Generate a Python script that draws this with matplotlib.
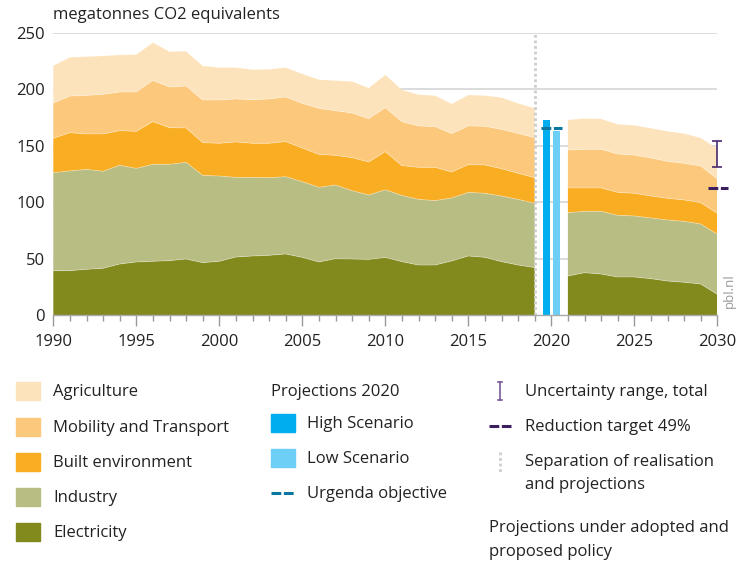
import matplotlib
matplotlib.use("Agg")
import matplotlib.pyplot as plt
from matplotlib.patches import Rectangle
from matplotlib.lines import Line2D

plt.rcParams['font.family'] = ['Open Sans', 'DejaVu Sans']

# ---------------- data ----------------
years_hist = list(range(1990, 2020))
electricity_hist = [39.3, 39.3, 40.5, 41.4, 45.2, 47.0, 47.6, 48.2, 49.6, 46.4,
                    47.6, 51.4, 52.3, 52.9, 54.1, 51.1, 47.0, 49.9, 49.6, 49.3,
                    51.0, 47.3, 44.3, 44.3, 47.9, 52.3, 51.1, 47.3, 44.3, 42.0]
industry_hist = [86.9, 88.4, 88.6, 86.0, 87.5, 83.0, 86.0, 85.4, 85.7, 77.4,
                 75.6, 70.6, 69.7, 68.8, 68.5, 67.1, 66.2, 65.3, 60.6, 57.1,
                 60.0, 58.7, 58.2, 57.1, 55.8, 56.4, 56.8, 58.2, 58.2, 57.0]
built_hist = [30.4, 33.9, 31.4, 33.1, 30.7, 32.8, 37.8, 32.5, 30.5, 29.0,
              29.0, 31.4, 30.2, 30.5, 31.1, 29.8, 29.2, 26.3, 29.3, 29.2,
              33.8, 26.4, 28.4, 29.5, 23.1, 24.6, 25.1, 24.2, 23.1, 22.7]
mobility_hist = [31.3, 32.5, 34.2, 35.1, 34.3, 34.9, 36.6, 36.0, 37.2, 37.8,
                 38.4, 38.1, 38.7, 39.3, 39.6, 39.6, 40.8, 39.6, 39.6, 38.4,
                 39.0, 39.0, 36.7, 36.1, 34.0, 34.3, 34.3, 34.9, 35.4, 35.5]
agriculture_hist = [33.1, 34.3, 34.3, 34.0, 32.8, 33.1, 33.4, 31.4, 30.7, 30.1,
                    28.7, 27.8, 26.6, 26.3, 26.0, 26.1, 25.4, 26.6, 27.8, 27.2,
                    29.0, 28.1, 27.7, 27.4, 26.3, 27.4, 27.1, 28.1, 26.6, 26.0]

years_proj = list(range(2021, 2031))
electricity_proj = [34.6, 37.5, 36.3, 33.7, 33.7, 32.2, 30.1, 29.0, 27.5, 18.3]
industry_proj = [56.1, 54.4, 55.6, 54.7, 54.1, 53.8, 54.1, 54.0, 53.2, 53.2]
built_proj = [21.9, 20.7, 20.7, 20.3, 20.1, 19.5, 19.2, 19.0, 18.9, 18.6]
mobility_proj = [33.7, 34.3, 34.3, 34.0, 33.9, 33.7, 32.8, 32.5, 32.5, 30.5]
agriculture_proj = [26.6, 27.2, 26.9, 26.3, 26.3, 26.3, 26.6, 26.3, 24.8, 26.9]

scenario_names = ["High Scenario", "Low Scenario"]
scenario_x = [2019.7, 2020.3]
scenario_values = [172.9, 163.1]
urgenda_objective = 166.0
separation_year = 2019
uncertainty_year = 2030
uncertainty_range = [131.5, 154.5]
reduction_target = 112.5

sector_labels = ["Agriculture", "Mobility and Transport", "Built environment",
                 "Industry", "Electricity"]
sector_colors = ["#fde3bb", "#fcc97c", "#f9ad22", "#b8bd84", "#828a1e"]

# ---------------- figure ----------------
W, H = 751, 563
fig = plt.figure(figsize=(W / 100, H / 100), dpi=100)

def fx(x):
    return x / W

def fy(y):
    return 1 - y / H

ax = fig.add_axes([fx(53.3), fy(315), 664 / W, 282 / H])
ax.set_xlim(1990, 2030)
ax.set_ylim(0, 250)

for v in range(50, 251, 50):
    ax.axhline(v, color="#d2d2d2", lw=1.1, zorder=0)

stack_colors = sector_colors[::-1]
hist_layers = [electricity_hist, industry_hist, built_hist, mobility_hist, agriculture_hist]
proj_layers = [electricity_proj, industry_proj, built_proj, mobility_proj, agriculture_proj]
for yrs, layers in ((years_hist, hist_layers), (years_proj, proj_layers)):
    ax.stackplot(yrs, *layers, colors=stack_colors, lw=0, zorder=2)
    cum = [0.0] * len(yrs)
    for layer in layers[:-1]:
        cum = [c + v for c, v in zip(cum, layer)]
        ax.plot(yrs, cum, color="white", lw=0.6, alpha=0.35, zorder=3)

# scenario bars
bar_colors = ["#00aeef", "#6dcff6"]
ax.bar(scenario_x, scenario_values, width=0.42, color=bar_colors, zorder=3)
ax.hlines(urgenda_objective, scenario_x[0] - 0.3, scenario_x[1] + 0.33,
          colors="#0a77a0", lw=2.2, linestyles=(0, (3.2, 0.85)), zorder=4)

# separation line
ax.axvline(separation_year, color="#cdcdcd", lw=2.0, ls=(0, (1, 1)), zorder=4)

# uncertainty and target
ax.errorbar([uncertainty_year], [sum(uncertainty_range) / 2],
            yerr=[[sum(uncertainty_range) / 2 - uncertainty_range[0]],
                  [uncertainty_range[1] - sum(uncertainty_range) / 2]],
            fmt="none", ecolor="#4b2a6e", elinewidth=1.2, capsize=3.3,
            capthick=1.2, zorder=5, clip_on=False)
ax.hlines(reduction_target, uncertainty_year - 0.58, uncertainty_year + 0.63,
          colors="#3b1f5e", lw=2.2, linestyles=(0, (3.2, 0.85)), zorder=5,
          clip_on=False)

# axes styling
for s in ("left", "right", "top"):
    ax.spines[s].set_visible(False)
ax.spines["bottom"].set_color("#aaaaaa")
ax.spines["bottom"].set_linewidth(1.0)
ax.spines["bottom"].set_zorder(6)
ax.set_xticks(range(1990, 2031, 5))
ax.set_xticks(range(1990, 2031), minor=True)
ax.tick_params(axis="x", which="major", length=8, width=1.0, color="#999999",
               labelsize=12, labelcolor="#222222", pad=6)
ax.tick_params(axis="x", which="minor", length=4, width=1.0, color="#999999")
ax.set_yticks(range(0, 251, 50))
ax.tick_params(axis="y", length=0, labelsize=12, labelcolor="#222222", pad=6)

fig.text(fx(53), fy(15), "megatonnes CO2 equivalents", fontsize=12,
         color="#222222", va="center", ha="left")
fig.text(fx(729.5), fy(308), "pbl.nl", fontsize=9.5, color="#9a9a9a",
         rotation=90, ha="center", va="bottom")

# ---------------- legend ----------------
fs = 12
tc = "#222222"
rows = [391, 427, 462, 497, 532]
for lab, col, yy in zip(sector_labels, sector_colors, rows):
    fig.patches.append(Rectangle((fx(16), fy(yy + 9)), 24 / W, 18 / H,
                                 transform=fig.transFigure, color=col))
    fig.text(fx(53), fy(yy + 1), lab, fontsize=fs, color=tc, va="center")

fig.text(fx(271), fy(392), "Projections 2020", fontsize=fs, color=tc, va="center")
for lab, col, yy in zip(scenario_names, bar_colors, [423, 458]):
    fig.patches.append(Rectangle((fx(271), fy(yy + 9)), 24 / W, 18 / H,
                                 transform=fig.transFigure, color=col))
    fig.text(fx(307), fy(yy + 1), lab, fontsize=fs, color=tc, va="center")
fig.lines.append(Line2D([fx(271), fx(295)], [fy(493), fy(493)],
                        transform=fig.transFigure, color="#0a77a0", lw=2.2,
                        ls=(0, (3.2, 0.85))))
fig.text(fx(307), fy(494), "Urgenda objective", fontsize=fs, color=tc, va="center")

# column 3
fig.lines.append(Line2D([fx(500), fx(500)], [fy(382), fy(400)],
                        transform=fig.transFigure, color="#7a5a9a", lw=1.2))
for yy in (382, 400):
    fig.lines.append(Line2D([fx(497.5), fx(502.5)], [fy(yy), fy(yy)],
                            transform=fig.transFigure, color="#7a5a9a", lw=1.2))
fig.text(fx(525), fy(392), "Uncertainty range, total", fontsize=fs, color=tc, va="center")
fig.lines.append(Line2D([fx(489), fx(511)], [fy(426), fy(426)],
                        transform=fig.transFigure, color="#3b1f5e", lw=2.2,
                        ls=(0, (3.2, 0.85))))
fig.text(fx(525), fy(427), "Reduction target 49%", fontsize=fs, color=tc, va="center")
fig.lines.append(Line2D([fx(500), fx(500)], [fy(452), fy(472)],
                        transform=fig.transFigure, color="#cdcdcd", lw=2.0,
                        ls=(0, (1, 1))))
fig.text(fx(525), fy(462), "Separation of realisation", fontsize=fs, color=tc, va="center")
fig.text(fx(525), fy(485), "and projections", fontsize=fs, color=tc, va="center")
fig.text(fx(489), fy(528), "Projections under adopted and", fontsize=fs, color=tc, va="center")
fig.text(fx(489), fy(552), "proposed policy", fontsize=fs, color=tc, va="center")

fig.savefig("out.png", dpi=100)
